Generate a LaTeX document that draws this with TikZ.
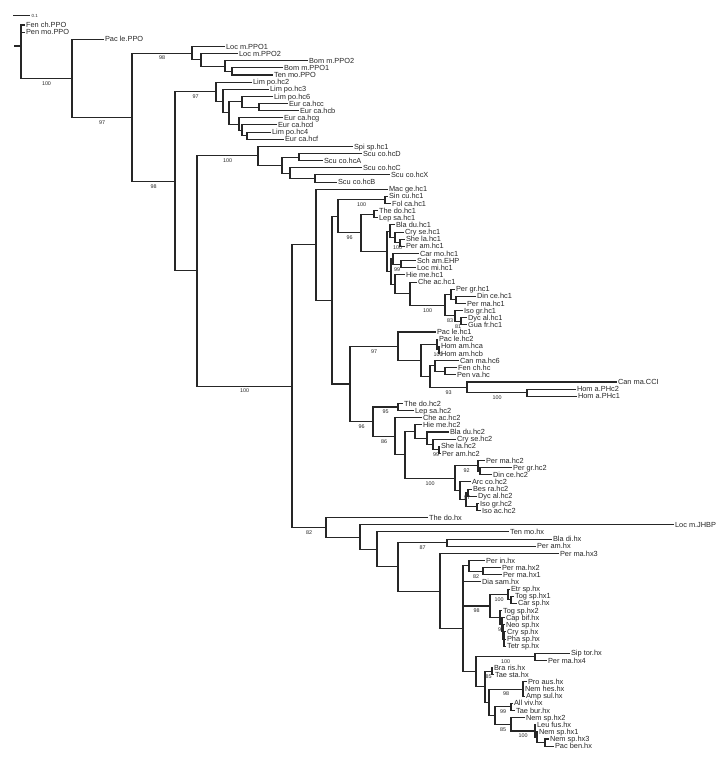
\documentclass[tikz,border=0pt]{standalone}
\usepackage{fontspec}
\setmainfont{Liberation Sans}
\usetikzlibrary{calc}

\newcommand{\clade}[4]{%
  \path ($(#3)!0.5!(#4)$) coordinate (#1-mid);
  \coordinate (#1) at (#2,0 |- #1-mid);
  \draw[branch] (#3) -- (#1 |- #3) -- (#1 |- #4) -- (#4);
}
\newcommand{\cladethree}[5]{%
  \path ($(#3)!0.5!(#5)$) coordinate (#1-mid);
  \coordinate (#1) at (#2,0 |- #1-mid);
  \draw[branch] (#3) -- (#1 |- #3) -- (#1 |- #5) -- (#5);
  \draw[branch] (#1 |- #4) -- (#4);
}
\newcommand{\boot}[3]{%
  \node[boot] (#2-bs) at ($(#1 |- #2)!0.5!(#2) + (0,5)$) {#3};
}

\begin{document}
\begin{tikzpicture}[
    x=0.03cm, y=-0.03cm,
    branch/.style={line width=0.9pt, black!85},
    leaf/.style={anchor=west, inner sep=0.7pt, text height=4.5pt, text depth=0pt,
                 font=\fontsize{6.3}{7}\selectfont, text=black!85},
    boot/.style={inner sep=0pt, font=\fontsize{4.6}{5}\selectfont, text=black!85}
]
    \useasboundingbox (0,0) rectangle (724,761);

    \foreach \nm/\tip/\txt [count=\i] in {
      fenPPO/25/Fen ch.PPO, penPPO/25/Pen mo.PPO, pacPPO/104/Pac le.PPO,
      locPa/225/Loc m.PPO1, locPb/238/Loc m.PPO2, bomPb/308/Bom m.PPO2,
      bomPa/283/Bom m.PPO1, tenP/273/Ten mo.PPO, limB/252/Lim po.hc2,
      limC/269/Lim po.hc3, limF/273/Lim po.hc6, eurC/288/Eur ca.hcc,
      eurB/299/Eur ca.hcb, eurG/283/Eur ca.hcg, eurD/277/Eur ca.hcd,
      limD/271/Lim po.hc4, eurF/284/Eur ca.hcf, spi/353/Spi sp.hc1,
      scuD/362/Scu co.hcD, scuA/323/Scu co.hcA, scuC/362/Scu co.hcC,
      scuX/390/Scu co.hcX, scuB/337/Scu co.hcB, mac/388/Mac ge.hc1,
      sin/388/Sin cu.hc1, fol/391/Fol ca.hc1, theA/378/The do.hc1,
      lepA/378/Lep sa.hc1, blaA/395/Bla du.hc1, cryA/404/Cry se.hc1,
      sheA/405/She la.hc1, pamA/405/Per am.hc1, car/419/Car mo.hc1,
      sch/416/Sch am.EHP, locmi/416/Loc mi.hc1, hieA/405/Hie me.hc1,
      cheA/417/Che ac.hc1, pgrA/455/Per gr.hc1, dinA/476/Din ce.hc1,
      pmaA/466/Per ma.hc1, isoA/463/Iso gr.hc1, dycA/467/Dyc al.hc1,
      gua/467/Gua fr.hc1, pacA/436/Pac le.hc1, pacB/438/Pac le.hc2,
      homa/440/Hom am.hca, homb/440/Hom am.hcb, canF/459/Can ma.hc6,
      fen/457/Fen ch.hc, pen/456/Pen va.hc, canCCI/617/Can ma.CCI,
      homPb/576/Hom a.PHc2, homPa/577/Hom a.PHc1, theB/403/The do.hc2,
      lepB/414/Lep sa.hc2, cheB/422/Che ac.hc2, hieB/422/Hie me.hc2,
      blaB/449/Bla du.hc2, cryB/456/Cry se.hc2, sheB/440/She la.hc2,
      pamB/441/Per am.hc2, pmaB/485/Per ma.hc2, pgrB/512/Per gr.hc2,
      dinB/492/Din ce.hc2, arcB/471/Arc co.hc2, besB/472/Bes ra.hc2,
      dycB/477/Dyc al.hc2, isoB/479/Iso gr.hc2, isoacB/481/Iso ac.hc2,
      theX/428/The do.hx, locJ/674/Loc m.JHBP, tenX/509/Ten mo.hx,
      blaX/552/Bla di.hx, pamX/536/Per am.hx, pmaXc/559/Per ma.hx3,
      pinX/485/Per in.hx, pmaXb/501/Per ma.hx2, pmaXa/502/Per ma.hx1,
      diaX/481/Dia sam.hx, etrX/510/Etr sp.hx, togXa/514/Tog sp.hx1,
      carX/517/Car sp.hx, togXb/502/Tog sp.hx2, capX/505/Cap bif.hx,
      neoX/505/Neo sp.hx, cryX/506/Cry sp.hx, phaX/506/Pha sp.hx,
      tetX/506/Tetr sp.hx, sipX/570/Sip tor.hx, pmaXd/547/Per ma.hx4,
      braX/493/Bra ris.hx, taeXa/494/Tae sta.hx, proX/527/Pro aus.hx,
      nemXh/524/Nem hes.hx, ampX/525/Amp sul.hx, allX/513/All viv.hx,
      taeXb/515/Tae bur.hx, nemXb/525/Nem sp.hx2, leuX/536/Leu fus.hx,
      nemXa/538/Nem sp.hx1, nemXc/549/Nem sp.hx3, pacX/554/Pac ben.hx}
      \node[leaf] (\nm) at (\tip, {25+7.14*(\i-1)}) {\txt};

    \clade{nD4}{232}{bomPa}{tenP}
    \clade{nD3}{225}{bomPb}{nD4}
    \clade{nD2}{201}{locPb}{nD3}
    \clade{nD}{192}{locPa}{nD2}
    \clade{nE8}{247}{limD}{eurF}
    \clade{nE7}{242}{eurD}{nE8}
    \clade{nE6}{239}{eurG}{nE7}
    \clade{nE5}{259}{eurC}{eurB}
    \clade{nE4}{242}{limF}{nE5}
    \clade{nE3}{229}{nE4}{nE6}
    \clade{nE2}{223}{limC}{nE3}
    \clade{nE}{216}{limB}{nE2}
    \clade{nS4}{315}{scuX}{scuB}
    \clade{nS3}{290}{scuC}{nS4}
    \clade{nS2}{299}{scuD}{scuA}
    \clade{nS1}{282}{nS2}{nS3}
    \clade{nS}{258}{spi}{nS1}

    \clade{nL}{385}{sin}{fol}
    \clade{nT}{374}{theA}{lepA}
    \clade{nP3}{400}{sheA}{pamA}
    \clade{nP2}{395}{cryA}{nP3}
    \clade{nP}{390}{blaA}{nP2}
    \clade{nQ1b}{401}{sch}{locmi}
    \clade{nQ1}{393}{car}{nQ1b}
    \clade{nR1b}{456}{dinA}{pmaA}
    \clade{nR1}{451}{pgrA}{nR1b}
    \clade{nR2b}{461}{dycA}{gua}
    \clade{nR2}{455}{isoA}{nR2b}
    \clade{nR}{445}{nR1}{nR2}
    \clade{nQ2b}{410}{cheA}{nR}
    \clade{nQ2}{395}{hieA}{nQ2b}
    \clade{nQ}{391}{nQ1}{nQ2}
    \clade{nN}{387}{nP}{nQ}
    \clade{nM}{361}{nT}{nN}
    \clade{nK}{338}{nL}{nM}

    \clade{nH2}{439}{homa}{homb}
    \clade{nH1}{437}{pacB}{nH2}
    \clade{nFb}{445}{fen}{pen}
    \clade{nF}{435}{canF}{nFb}
    \clade{nHa}{527}{homPb}{homPa}
    \clade{nC}{467}{canCCI}{nHa}
    \clade{nC2}{430}{nF}{nC}
    \clade{nC1}{421}{nH1}{nC2}
    \clade{nJa}{398}{pacA}{nC1}
    \clade{nT2}{398}{theB}{lepB}
    \clade{nJ5d}{439}{sheB}{pamB}
    \clade{nJ5c}{433}{cryB}{nJ5d}
    \clade{nJ5b}{427}{blaB}{nJ5c}
    \clade{nJ5}{415}{hieB}{nJ5b}
    \clade{nJ7b}{480}{pgrB}{dinB}
    \clade{nJ7}{478}{pmaB}{nJ7b}
    \clade{nJ8d}{477}{isoB}{isoacB}
    \clade{nJ8c}{468}{besB}{dycB}
    \clade{nJ8b}{466}{nJ8c}{nJ8d}
    \clade{nJ8}{460}{arcB}{nJ8b}
    \clade{nJ6}{455}{nJ7}{nJ8}
    \clade{nJ4}{405}{nJ5}{nJ6}
    \clade{nJ3}{395}{cheB}{nJ4}
    \clade{nJb}{373}{nT2}{nJ3}
    \clade{nJ}{350}{nJa}{nJb}
    \clade{nI}{332}{nK}{nJ}
    \clade{nHm}{316}{mac}{nI}

    \clade{nY}{447}{blaX}{pamX}
    \clade{nPm}{483}{pmaXb}{pmaXa}
    \clade{nPi}{469}{pinX}{nPm}
    \clade{nZ2}{511}{togXa}{carX}
    \clade{nZ1}{508}{etrX}{nZ2}
    \cladethree{nZ6}{504}{cryX}{phaX}{tetX}
    \clade{nZ5}{503}{neoX}{nZ6}
    \clade{nZ4}{502}{capX}{nZ5}
    \clade{nZ3}{500}{togXb}{nZ4}
    \clade{nZ}{490}{nZ1}{nZ3}
    \cladethree{nV1}{463}{nPi}{diaX}{nZ}
    \clade{nSp}{535}{sipX}{pmaXd}
    \clade{nBt}{492}{braX}{taeXa}
    \cladethree{nPn}{523}{proX}{nemXh}{ampX}
    \clade{nAt}{511}{allX}{taeXb}
    \clade{nNl4}{545}{nemXc}{pacX}
    \clade{nNl3}{537}{nemXa}{nNl4}
    \clade{nNl2}{535}{leuX}{nNl3}
    \clade{nNl}{511}{nemXb}{nNl2}
    \clade{nV5}{495}{nAt}{nNl}
    \clade{nV4}{489}{nPn}{nV5}
    \clade{nV3}{485}{nBt}{nV4}
    \clade{nV2}{476}{nSp}{nV3}
    \clade{nV}{463}{nV1}{nV2}
    \clade{nHx3}{440}{pmaXc}{nV}
    \clade{nHx2}{398}{nY}{nHx3}
    \clade{nHx1}{377}{tenX}{nHx2}
    \clade{nHx}{360}{locJ}{nHx1}
    \clade{nU}{326}{theX}{nHx}

    \clade{nG}{292}{nHm}{nU}
    \clade{nFf}{197}{nS}{nG}
    \clade{nCc}{175}{nE}{nFf}
    \clade{nB}{132}{nD}{nCc}
    \clade{nA}{72}{pacPPO}{nB}

    \coordinate (root) at (21,46);
    \coordinate (rootstub) at (14,46);
    \draw[branch] (fenPPO) -- (root |- fenPPO) -- (root |- nA) -- (nA);
    \draw[branch] (penPPO) -- (root |- penPPO);
    \draw[branch] (rootstub) -- (root);

    \coordinate (barL) at (13,15.5);
    \coordinate (barR) at (30,15.5);
    \draw[branch] (barL) -- (barR)
        node[right, inner sep=1pt, font=\fontsize{3.8}{4}\selectfont] (barlab) {0.1};

    \boot{root}{nA}{100}
    \boot{nA}{nB}{97}
    \boot{nB}{nD}{98}
    \boot{nB}{nCc}{98}
    \boot{nCc}{nE}{97}
    \boot{nFf}{nS}{100}
    \boot{nFf}{nG}{100}
    \boot{nK}{nL}{100}
    \boot{nK}{nM}{96}
    \boot{nP2}{nP3}{100}
    \boot{nQ1}{nQ1b}{99}
    \boot{nQ2b}{nR}{100}
    \boot{nR}{nR2}{83}
    \boot{nR2}{nR2b}{81}
    \boot{nJ}{nJa}{97}
    \boot{nH1}{nH2}{100}
    \boot{nC2}{nC}{93}
    \boot{nC}{nHa}{100}
    \boot{nJ}{nJb}{96}
    \boot{nJb}{nT2}{95}
    \boot{nJb}{nJ3}{86}
    \boot{nJ5c}{nJ5d}{99}
    \boot{nJ4}{nJ6}{100}
    \boot{nJ6}{nJ7}{92}
    \boot{nJ8b}{nJ8c}{97}
    \boot{nG}{nU}{82}
    \boot{nHx2}{nY}{87}
    \boot{nPi}{nPm}{82}
    \boot{nV1}{nZ}{98}
    \boot{nZ}{nZ1}{100}
    \boot{nZ3}{nZ4}{90}
    \boot{nV2}{nSp}{100}
    \boot{nV3}{nBt}{85}
    \boot{nV4}{nPn}{98}
    \boot{nV5}{nAt}{99}
    \boot{nV5}{nNl}{85}
    \boot{nNl}{nNl2}{100}
\end{tikzpicture}
\end{document}
